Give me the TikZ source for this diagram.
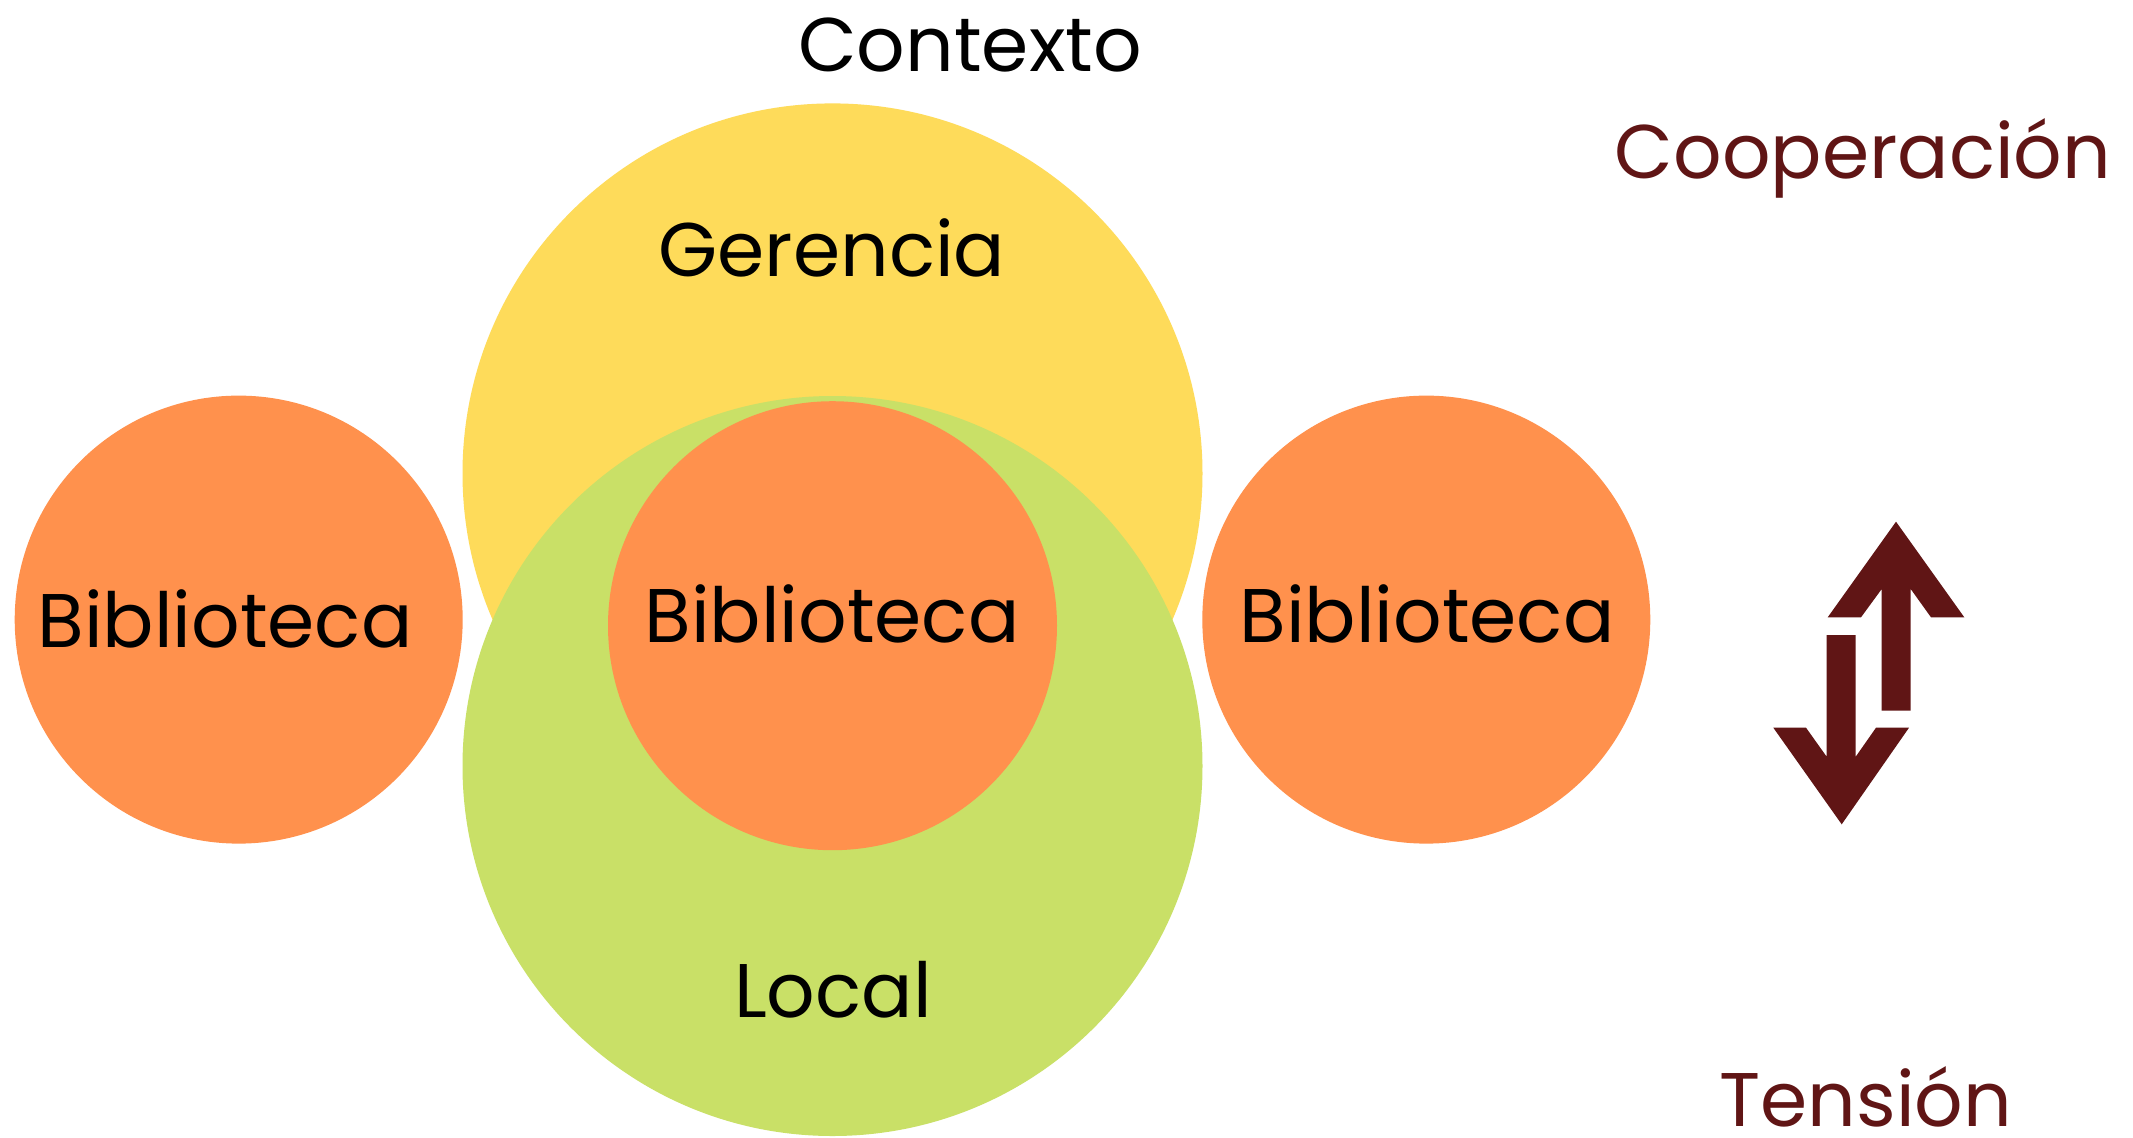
\documentclass[tikz,border=0pt]{standalone}
\usepackage{fontspec}
\setmainfont{Poppins}
\definecolor{cyellow}{RGB}{254,219,90}
\definecolor{cgreen}{RGB}{201,224,103}
\definecolor{corange}{RGB}{255,145,77}
\definecolor{cdark}{RGB}{96,21,21}
\tikzset{
  lbl/.style={anchor=base, inner sep=0pt, font=\fontsize{38}{46}\selectfont, text=black},
  side/.style={lbl, text=cdark},
}
\begin{document}
\begin{tikzpicture}[x=0.5pt,y=-0.5pt]
\useasboundingbox (0,0) rectangle (2133,1137);
\fill[white] (0,0) rectangle (2133,1137);
% circles
\fill[cyellow] (832.5,473.4) circle[radius=185pt];
\fill[cgreen] (832.5,766) circle[radius=185pt];
\fill[corange] (832.5,625.7) circle[radius=112.25pt];
\fill[corange] (238.7,619.6) circle[radius=112pt];
\fill[corange] (1426.3,619.6) circle[radius=112pt];
% labels
\node[lbl] (ctx) at (970,71.7) {Contexto};
\node[lbl] (ger) at (832,276) {Gerencia};
\node[lbl] (bl) at (225,647.3) {Biblioteca};
\node[lbl] (bc) at (832,642) {Biblioteca};
\node[lbl] (br) at (1427,642) {Biblioteca};
\node[lbl] (loc) at (833,1017.5) {Local};
\node[side] (coop) at (1863,178.3) {Cooperación};
\node[side, text depth=0pt] (ten) at (1866,1126) {Tensión};
% arrows
\fill[cdark] (1896,521.7) -- (1964.3,617.3) -- (1931,617.3) -- (1910.7,589) -- (1910.7,710.7)
  -- (1881.7,710.7) -- (1881.7,589) -- (1861,617.3) -- (1827.7,617.3) -- cycle;
\fill[cdark] (1841.7,824.3) -- (1909,727.7) -- (1876,727.7) -- (1855.7,756.7) -- (1855.7,635)
  -- (1826.7,635) -- (1826.7,756.7) -- (1806,727.7) -- (1773.3,727.7) -- cycle;
\end{tikzpicture}
\end{document}
